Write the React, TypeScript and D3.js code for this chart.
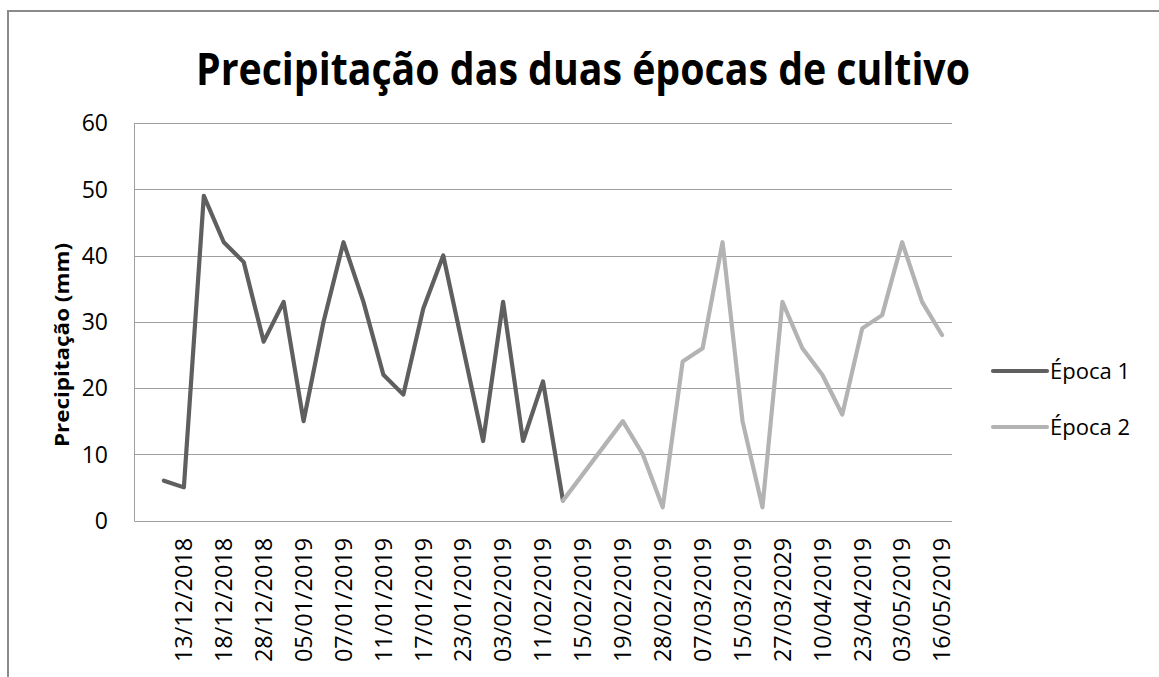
import { useRef, useEffect } from "react";
import * as d3 from "d3";

// categories (only every second date is labelled on the axis, the first slot is empty)
const categories = [
  "", "", "13/12/2018", "", "18/12/2018", "", "28/12/2018", "", "05/01/2019", "",
  "07/01/2019", "", "11/01/2019", "", "17/01/2019", "", "23/01/2019", "", "03/02/2019", "",
  "11/02/2019", "", "15/02/2019", "", "19/02/2019", "", "28/02/2019", "", "07/03/2019", "",
  "15/03/2019", "", "27/03/2029", "", "10/04/2019", "", "23/04/2019", "", "03/05/2019", "",
  "16/05/2019",
];

const epoca1: (number | null)[] = [
  null, 6, 5, 49, 42, 39, 27, 33, 15, 30, 42, 33, 22, 19, 32, 40, 26, 12, 33, 12, 21, 3,
  null, null, null, null, null, null, null, null, null, null, null, null, null, null,
  null, null, null, null, null,
];

const epoca2: (number | null)[] = [
  null, null, null, null, null, null, null, null, null, null, null, null, null, null,
  null, null, null, null, null, null, null,
  3, 7, 11, 15, 10, 2, 24, 26, 42, 15, 2, 33, 26, 22, 16, 29, 31, 42, 33, 28,
];

const yTicks = [0, 10, 20, 30, 40, 50, 60];

const series = [
  { name: "Época 1", values: epoca1, color: "#5f5f5f" },
  { name: "Época 2", values: epoca2, color: "#b3b3b3" },
];

const width = 1159;
const height = 677;
const font = "'Open Sans', Calibri, sans-serif";

export default function App() {
  const svgRef = useRef<SVGSVGElement>(null);

  useEffect(() => {
    const svg = d3.select(svgRef.current);
    svg.selectAll("*").remove();

    const plot = { left: 134, right: 952, top: 123, bottom: 520.5 };

    svg.append("rect").attr("width", width).attr("height", height).attr("fill", "#fff");

    // outer chart frame (cut off at right and bottom)
    svg
      .append("rect")
      .attr("x", 8)
      .attr("y", 11)
      .attr("width", width + 20)
      .attr("height", height + 20)
      .attr("fill", "none")
      .attr("stroke", "#8a8a8a")
      .attr("stroke-width", 2);

    const x = d3
      .scalePoint<number>()
      .domain(d3.range(categories.length))
      .range([plot.left, plot.right])
      .padding(0.5);

    const y = d3.scaleLinear().domain([0, 60]).range([plot.bottom, plot.top]);

    // grid
    svg
      .append("g")
      .selectAll("line")
      .data(yTicks.filter((d) => d > 0))
      .join("line")
      .attr("x1", plot.left)
      .attr("x2", plot.right)
      .attr("y1", (d) => Math.round(y(d)) + 0.5)
      .attr("y2", (d) => Math.round(y(d)) + 0.5)
      .attr("stroke", "#9f9f9f")
      .attr("stroke-width", 1);

    // axis lines
    svg
      .append("path")
      .attr("d", `M${plot.left + 0.5},${plot.top}V${Math.round(plot.bottom) + 0.5}H${plot.right}`)
      .attr("fill", "none")
      .attr("stroke", "#9f9f9f")
      .attr("stroke-width", 1);

    // y tick labels
    svg
      .append("g")
      .selectAll("text")
      .data(yTicks)
      .join("text")
      .attr("x", 108)
      .attr("y", (d) => y(d))
      .attr("dy", "0.36em")
      .attr("text-anchor", "end")
      .attr("font-family", font)
      .attr("font-size", 23)
      .attr("fill", "#000")
      .text((d) => d);

    // x labels
    svg
      .append("g")
      .selectAll("text")
      .data(categories.map((c, i) => ({ c, i })).filter((d) => d.c !== ""))
      .join("text")
      .attr("transform", (d) => `translate(${x(d.i)},538) rotate(-90)`)
      .attr("dy", "0.36em")
      .attr("text-anchor", "end")
      .attr("font-family", font)
      .attr("font-size", 23)
      .attr("textLength", 124)
      .attr("lengthAdjust", "spacingAndGlyphs")
      .attr("fill", "#000")
      .text((d) => d.c);

    // y axis title
    svg
      .append("text")
      .attr("transform", `translate(62,345) rotate(-90)`)
      .attr("dy", "0.35em")
      .attr("text-anchor", "middle")
      .attr("font-family", font)
      .attr("font-weight", "bold")
      .attr("font-size", 20)
      .attr("textLength", 204)
      .attr("lengthAdjust", "spacingAndGlyphs")
      .text("Precipitação (mm)");

    // title
    svg
      .append("text")
      .attr("x", 583)
      .attr("y", 85)
      .attr("text-anchor", "middle")
      .attr("font-family", font)
      .attr("font-weight", "bold")
      .attr("font-size", 44)
      .attr("textLength", 774)
      .attr("lengthAdjust", "spacingAndGlyphs")
      .text("Precipitação das duas épocas de cultivo");

    // lines
    const line = d3
      .line<number | null>()
      .defined((d) => d !== null)
      .x((_, i) => x(i) as number)
      .y((d) => y(d as number));

    series.forEach((s) => {
      svg
        .append("path")
        .datum(s.values)
        .attr("fill", "none")
        .attr("stroke", s.color)
        .attr("stroke-width", 4.2)
        .attr("stroke-linejoin", "round")
        .attr("stroke-linecap", "round")
        .attr("d", line);
    });

    // legend
    const legend = svg
      .append("g")
      .selectAll("g")
      .data(series)
      .join("g")
      .attr("transform", (_, i) => `translate(993,${371 + i * 56})`);

    legend
      .append("line")
      .attr("x1", 0)
      .attr("x2", 54)
      .attr("stroke", (d) => d.color)
      .attr("stroke-width", 4.2)
      .attr("stroke-linecap", "round");

    legend
      .append("text")
      .attr("x", 57)
      .attr("dy", "0.36em")
      .attr("font-family", font)
      .attr("font-size", 22)
      .attr("fill", "#000")
      .text((d) => d.name);
  }, []);

  return (
    <svg
      ref={svgRef}
      width={width}
      height={height}
      style={{ position: "absolute", left: 0, top: 0, display: "block" }}
    />
  );
}
